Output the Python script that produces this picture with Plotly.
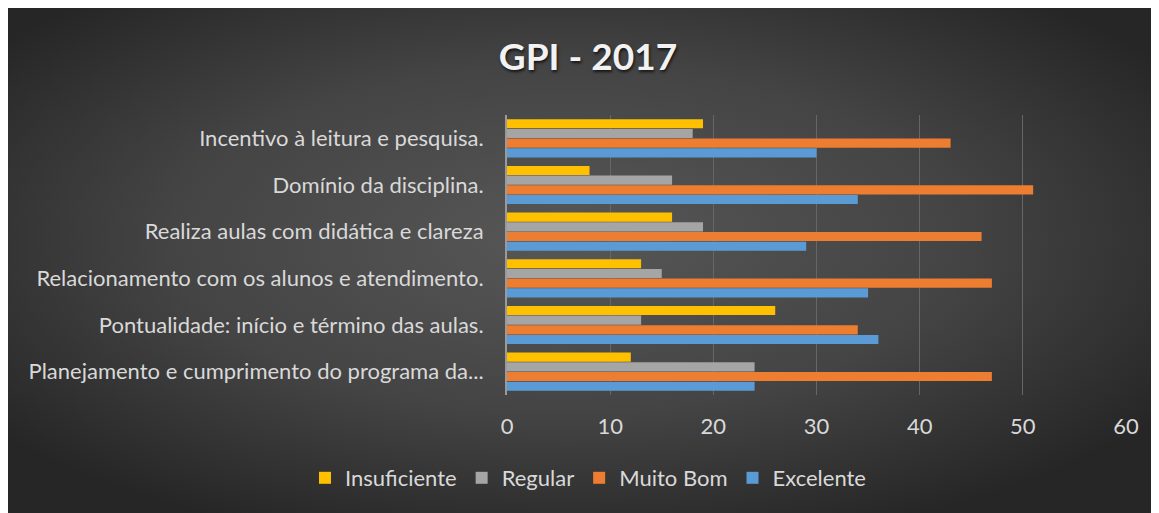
# %%
import base64
import plotly.graph_objects as go

# %%
categories = [
    "Planejamento e cumprimento do programa da...",
    "Pontualidade: início e término das aulas.",
    "Relacionamento com os alunos e atendimento.",
    "Realiza aulas com didática e clareza",
    "Domínio da disciplina.",
    "Incentivo à leitura e pesquisa.",
]

excelente = [24, 36, 35, 29, 34, 30]
muito_bom = [47, 34, 47, 46, 51, 43]
regular = [24, 13, 15, 19, 16, 18]
insuficiente = [12, 26, 13, 16, 8, 19]

x_ticks = [0, 10, 20, 30, 40, 50, 60]

# %%
W, H = 1159, 513
# plot area in figure pixels (page adds 8px body margin)
L, R, T, B = 499, 1118, 107, 387

# dark radial background like the Excel style
svg = (
    '<svg xmlns="http://www.w3.org/2000/svg" width="1159" height="513" '
    'preserveAspectRatio="none">'
    '<defs><radialGradient id="g" cx="0.48" cy="0.45" r="0.62">'
    '<stop offset="0" stop-color="#575757"/>'
    '<stop offset="0.55" stop-color="#444444"/>'
    '<stop offset="1" stop-color="#262626"/>'
    "</radialGradient></defs>"
    '<rect width="1159" height="513" fill="url(#g)"/></svg>'
)
bg_src = "data:image/svg+xml;base64," + base64.b64encode(svg.encode()).decode()

pw, ph = R - L, B - T

# %%
fig = go.Figure()

series = [
    ("Excelente", excelente, "#5B9BD5"),
    ("Muito Bom", muito_bom, "#ED7D31"),
    ("Regular", regular, "#A5A5A5"),
    ("Insuficiente", insuficiente, "#FFC000"),
]

for name, vals, color in series:
    fig.add_trace(
        go.Bar(
            y=categories,
            x=vals,
            name=name,
            orientation="h",
            marker=dict(color=color, line=dict(width=0)),
        )
    )

fig.update_layout(
    width=W,
    height=H,
    barmode="group",
    bargap=0.17,
    bargroupgap=0.06,
    paper_bgcolor="#3a3a3a",
    plot_bgcolor="rgba(0,0,0,0)",
    margin=dict(l=L, r=W - R, t=T, b=H - B, autoexpand=False),
    font=dict(family="Lato", size=22, color="#d9d9d9"),
    title=dict(
        text="<b>GPI - 2017</b>",
        x=580 / W,
        xref="container",
        xanchor="center",
        y=1 - 49 / H,
        yref="container",
        yanchor="middle",
        font=dict(
            family="Lato",
            size=37,
            color="#f2f2f2",
            shadow="1px 2px 3px rgba(0,0,0,0.7)",
        ),
    ),
    legend=dict(
        orientation="h",
        traceorder="reversed",
        x=580 / W,
        xref="container",
        xanchor="center",
        y=1 - 470 / H,
        yref="container",
        yanchor="middle",
        font=dict(size=22, color="#d9d9d9"),
        bgcolor="rgba(0,0,0,0)",
    ),
    xaxis=dict(
        range=[0, 60],
        tickvals=x_ticks,
        showgrid=True,
        gridcolor="#666666",
        gridwidth=1,
        zeroline=False,
        showline=False,
        ticklabelstandoff=16,
        tickfont=dict(size=22, color="#d9d9d9"),
        fixedrange=True,
    ),
    yaxis=dict(
        showline=True,
        linecolor="#9a9a9a",
        linewidth=2,
        showgrid=False,
        ticklabelstandoff=17,
        tickfont=dict(size=22, color="#d9d9d9"),
        fixedrange=True,
    ),
    images=[
        dict(
            source=bg_src,
            xref="paper",
            yref="paper",
            x=-L / pw,
            y=1 + T / ph,
            sizex=W / pw,
            sizey=H / ph,
            xanchor="left",
            yanchor="top",
            sizing="stretch",
            layer="below",
        )
    ],
)

fig.write_html("out.html")
